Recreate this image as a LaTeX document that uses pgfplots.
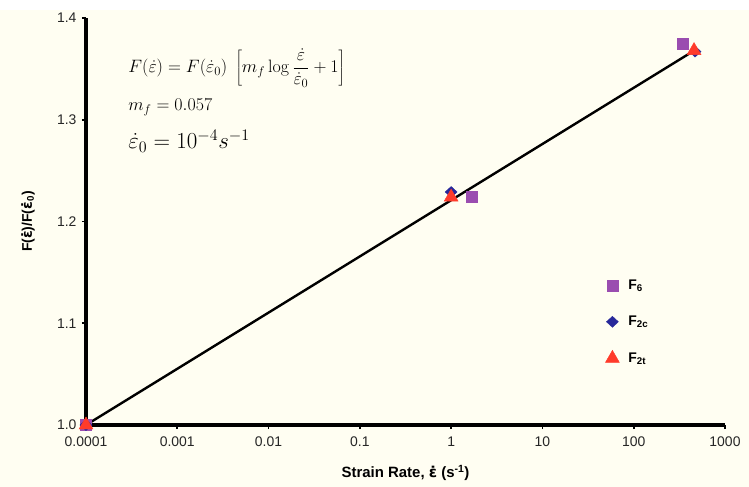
\RequirePackage{fix-cm}
\documentclass[border=0pt]{standalone}
\usepackage[no-math]{fontspec}
\setmainfont{Liberation Sans}
\newfontfamily\dejavu{DejaVu Sans}
\usepackage{pgfplots}
\pgfplotsset{compat=1.18}
\definecolor{cream}{HTML}{FFFEF2}
\definecolor{sqpurple}{HTML}{9A4DB0}
\definecolor{dblue}{HTML}{27289A}
\definecolor{tred}{HTML}{FF3B2B}
\begin{document}
\begin{tikzpicture}
\useasboundingbox (-86bp,-62bp) rectangle (663bp,425bp);
\fill[cream] (-86bp,-62bp) rectangle (663bp,415bp);
\fill[white] (-86bp,415bp) rectangle (663bp,425bp);
\begin{axis}[
  at={(0,0)}, anchor=south west,
  scale only axis, width=639bp, height=407bp,
  xmode=log, xmin=1e-4, xmax=1000, ymin=1, ymax=1.4,
  axis x line*=bottom, axis y line*=left,
  axis line style={line width=3.5bp, black},
  xtick={1e-4,1e-3,1e-2,1e-1,1,10,100,1000},
  xticklabels={0.0001,0.001,0.01,0.1,1,10,100,1000},
  xminorticks=false,
  ytick={1,1.1,1.2,1.3,1.4},
  /pgf/number format/assume math mode=true,
  yticklabel style={/pgf/number format/fixed, /pgf/number format/fixed zerofill, /pgf/number format/precision=1, xshift=-2bp},
  tick align=outside, major tick length=4bp,
  tick style={black, line width=1.6bp},
  tick label style={font=\fontsize{14}{16}\selectfont, text=black!85},
  xticklabel style={yshift=-4bp},
  clip=false,
  xlabel={\textbf{Strain Rate, {\dejavu\bfseries ε̇} (s\textsuperscript{-1})}},
  xlabel style={font=\fontsize{15}{17}\selectfont, at={(rel axis cs:0.5,0)}, anchor=center, yshift=-48bp},
  ylabel={\textbf{F({\dejavu\bfseries ε̇})/F({\dejavu\bfseries ε̇}\textsubscript{0})}},
  ylabel style={font=\fontsize{14}{16}\selectfont, at={(rel axis cs:0,0.5)}, anchor=center, rotate=0, yshift=58bp},
  legend style={draw=none, fill=none, font=\bfseries\fontsize{14}{16}\selectfont,
    at={(rel axis cs:0.808,0.253)}, anchor=west, row sep=21bp},
  legend cell align=left,
]
\addplot[black, line width=2.4bp, forget plot] coordinates {(1e-4,1.0) (460,1.368)};
\addplot[only marks, mark=square*, mark size=5.5bp, color=sqpurple] coordinates {(1e-4,1.0) (1.7,1.224) (347,1.375)};
\addlegendentry{\hspace*{7bp}F\textsubscript{6}}
\addplot[only marks, mark=diamond*, mark size=5.5bp, mark options={xscale=1.45}, color=dblue] coordinates {(1e-4,1.0) (1,1.229) (470,1.367)};
\addlegendentry{\hspace*{7bp}F\textsubscript{2c}}
\addplot[only marks, mark=triangle*, mark size=8bp, color=tred] coordinates {(1e-4,1.0) (1,1.224) (458,1.368)};
\addlegendentry{\hspace*{7bp}F\textsubscript{2t}}
\node[anchor=west, inner sep=0pt, font=\fontsize{18}{22}\selectfont] at (rel axis cs:0.066,0.877)
  {$\displaystyle F(\dot{\varepsilon}) = F(\dot{\varepsilon}_0)\;\left[m_f\log\frac{\dot{\varepsilon}}{\dot{\varepsilon}_0}+1\right]$};
\node[anchor=west, inner sep=0pt, font=\fontsize{18}{22}\selectfont] at (rel axis cs:0.066,0.781)
  {$m_f = 0.057$};
\node[anchor=west, inner sep=0pt, font=\fontsize{23}{26}\selectfont] at (rel axis cs:0.066,0.697)
  {$\dot{\varepsilon}_0 = 10^{-4}s^{-1}$};
\end{axis}
\end{tikzpicture}
\end{document}
